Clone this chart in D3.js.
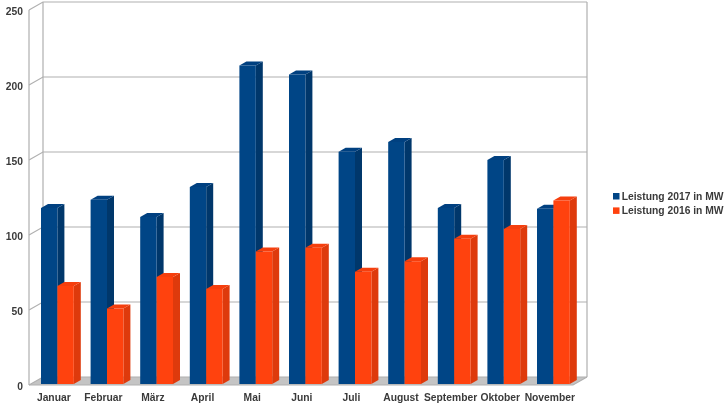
<!DOCTYPE html>
<html><head><meta charset="utf-8">
<script src="https://cdn.jsdelivr.net/npm/d3@7"></script>
<style>html,body{margin:0;padding:0;background:#fff}svg{display:block;filter:blur(.35px)}
text{font-family:"Liberation Sans",Arial,sans-serif;font-weight:bold;font-size:10.3px;fill:#3a3a3a}</style>
</head><body><svg id="c" width="728" height="410"></svg>
<script>
const categories=["Januar","Februar","März","April","Mai","Juni","Juli","August","September","Oktober","November"];
const values2017=[118,123.5,112,132,213,207,155.5,162,118,150,117.5];
const values2016=[66,51,72,64,89,91.5,75.5,82.5,97.5,104,123];
const seriesNames=["Leistung 2017 in MW","Leistung 2016 in MW"];
const yTicks=[0,50,100,150,200,250];
const colors=[{front:"#004586",side:"#00376b",top:"#004080"},{front:"#ff420e",side:"#de3a0c",top:"#f53f0e"}];

const svg=d3.select("#c");
const y=d3.scaleLinear().domain([0,250]).range([385,10]);
const x=d3.scaleBand().domain(categories).range([29,574.6]);
const bw=16.4, dx=14, dy=8, bdx=7, bdy=4, barOff=12;
const grid="#b0b0b0";

// floor
svg.append("polygon").attr("fill","#c4c4c4")
 .attr("points",[[29,y(0)],[29+dx,y(0)-dy],[573+dx,y(0)-dy],[573,y(0)]].join(" "));
// back grid + side wall
const g=svg.append("g").attr("stroke",grid).attr("stroke-width",1.2).attr("fill","none");
yTicks.forEach(t=>{
  g.append("path").attr("d",`M29,${y(t)}L${29+dx},${y(t)-dy}L${573+dx},${y(t)-dy}`);
});
g.append("path").attr("d",`M29,${y(0)}V${y(250)}M${29+dx},${y(0)-dy}V${y(250)-dy}M${573+dx},${y(0)-dy}V${y(250)-dy}`);
g.append("path").attr("d",`M29,${y(0)}H573L${573+dx},${y(0)-dy}`);

function bar(sel,v,i,s){
  const x0=x(categories[i])+barOff+s*bw, x1=x0+bw, yt=y(v), yb=y(0)-1;
  const c=colors[s], p=sel.append("g");
  p.append("polygon").attr("fill",c.side).attr("points",[[x1,yt],[x1+bdx,yt-bdy],[x1+bdx,yb-bdy],[x1,yb]].join(" "));
  p.append("polygon").attr("fill",c.top).attr("points",[[x0,yt],[x0+bdx,yt-bdy],[x1+bdx,yt-bdy],[x1,yt]].join(" "));
  p.append("rect").attr("fill",c.front).attr("x",x0).attr("y",yt).attr("width",bw).attr("height",yb-yt);
}
const marks=svg.append("g");
categories.forEach((cat,i)=>{bar(marks,values2017[i],i,0);bar(marks,values2016[i],i,1);});

// axes
const ax=svg.append("g").attr("transform",`translate(0,${y(0)+5})`).call(d3.axisBottom(x).tickSize(0).tickPadding(4));
ax.select(".domain").remove();
const ay=svg.append("g").attr("transform","translate(29,1)").call(d3.axisLeft(y).tickValues(yTicks).tickSize(0).tickPadding(6));
ay.select(".domain").remove();
svg.selectAll(".tick text").style("font-size","10.3px").style("font-family",'"Liberation Sans"').attr("fill","#3a3a3a");

// legend
const leg=svg.append("g");
seriesNames.forEach((n,i)=>{
  const ly=196+i*14.4;
  leg.append("rect").attr("x",613).attr("y",ly-3).attr("width",6.5).attr("height",6.5).attr("fill",colors[i].front);
  leg.append("text").attr("x",621.7).attr("y",ly+4).text(n);
});
</script></body></html>
